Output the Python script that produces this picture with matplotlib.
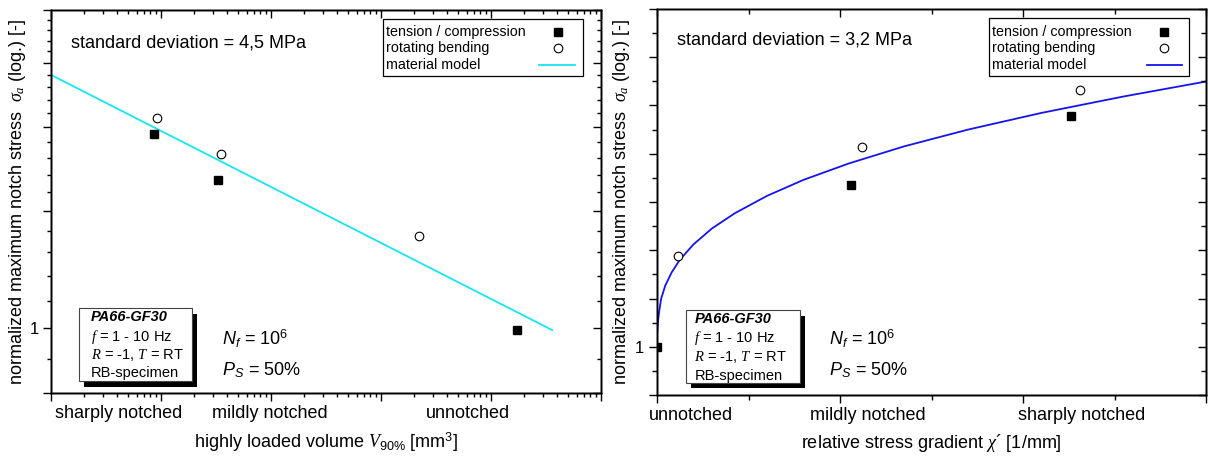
import matplotlib
matplotlib.use("Agg")
import matplotlib.pyplot as plt
import numpy as np
from matplotlib.patches import Rectangle
from matplotlib.ticker import FixedLocator, FixedFormatter, NullFormatter
from matplotlib.transforms import blended_transform_factory


plt.rcParams.update(
    {
        "font.family": ["Liberation Sans", "DejaVu Sans"],
        "font.size": 13,
        "mathtext.fontset": "custom",
        "mathtext.rm": "Liberation Sans",
        "mathtext.it": "Liberation Serif:italic",
        "mathtext.sf": "Liberation Sans:italic",
        "mathtext.bf": "Liberation Sans:bold",
        "axes.linewidth": 1.0,
    }
)

W, H = 1208, 457
CYAN = "#18E4F4"
BLUE = "#1414EE"

# left panel: highly loaded volume V90% [mm^3]
v90_tc = [0.87, 3.33, 1740.0]
sig_v90_tc = [1.956, 1.669, 0.994]
v90_rb = [0.925, 3.50, 221.0]
sig_v90_rb = [2.065, 1.827, 1.377]
v90_model = [0.1, 3600.0]
sig_v90_model = [2.398, 0.994]
v90_categories = ["sharply notched", "mildly notched", "unnotched"]
v90_category_pos = [0.41, 9.7, 618.0]

# right panel: relative stress gradient chi' [1/mm]
chi_tc = [0.0, 2.12, 4.53]
sig_chi_tc = [1.0, 1.470, 1.734]
chi_rb = [0.227, 2.24, 4.62]
sig_chi_rb = [1.243, 1.609, 1.844]
chi_model = [0.0, 0.001, 0.003, 0.011, 0.022, 0.045, 0.09, 0.16, 0.25, 0.4, 0.6, 0.85,
             1.2, 1.6, 2.1, 2.7, 3.4, 4.2, 5.1, 6.0]
sig_chi_model = [1.0, 1.022, 1.036, 1.062, 1.085, 1.121, 1.157, 1.194, 1.231, 1.277, 1.326,
                 1.375, 1.433, 1.489, 1.549, 1.613, 1.679, 1.747, 1.817, 1.883]
chi_categories = ["unnotched", "mildly notched", "sharply notched"]
chi_category_pos = [0.37, 2.30, 4.64]

legend_labels = ["tension / compression", "rotating bending", "material model"]
info_lines = ["PA66-GF30", r"$f$ = 1 - 10 Hz", r"$R$ = -1, $T$ = RT", "RB-specimen"]


def px_rect(x0, y0, x1, y1):
    return [x0 / W, 1 - y1 / H, (x1 - x0) / W, (y1 - y0) / H]


def ticks(ax, xscale, xlim, xmaj, xmin, yscale, ylim, ymaj, ymin, ylabels, maj_len, min_len):
    ax.set_xscale(xscale)
    ax.set_yscale(yscale)
    ax.set_xlim(*xlim)
    ax.set_ylim(*ylim)
    ax.xaxis.set_major_locator(FixedLocator(xmaj))
    ax.xaxis.set_minor_locator(FixedLocator(xmin))
    ax.xaxis.set_major_formatter(NullFormatter())
    ax.xaxis.set_minor_formatter(NullFormatter())
    ax.yaxis.set_major_locator(FixedLocator(ymaj))
    ax.yaxis.set_minor_locator(FixedLocator(ymin))
    ax.yaxis.set_major_formatter(FixedFormatter(ylabels))
    ax.yaxis.set_minor_formatter(NullFormatter())
    ax.tick_params(which="both", direction="out", width=1.0, labelsize=12, pad=3)
    ax.tick_params(which="major", length=maj_len)
    ax.tick_params(which="minor", length=min_len)

    # mirrored axes on top and right with inward ticks
    top = ax.twiny()
    top.set_xscale(xscale)
    top.set_xlim(*xlim)
    top.xaxis.set_major_locator(FixedLocator(xmaj))
    top.xaxis.set_minor_locator(FixedLocator(xmin))
    top.xaxis.set_major_formatter(NullFormatter())
    top.xaxis.set_minor_formatter(NullFormatter())
    top.tick_params(which="both", direction="in", width=1.0)
    top.tick_params(which="major", length=maj_len)
    top.tick_params(which="minor", length=min_len)

    right = ax.twinx()
    right.set_yscale(yscale)
    right.set_ylim(*ylim)
    right.yaxis.set_major_locator(FixedLocator(ymaj))
    right.yaxis.set_minor_locator(FixedLocator(ymin))
    right.yaxis.set_major_formatter(NullFormatter())
    right.yaxis.set_minor_formatter(NullFormatter())
    right.tick_params(which="both", direction="in", width=1.0)
    right.tick_params(which="major", length=maj_len)
    right.tick_params(which="minor", length=min_len)


def legend_box(ax, rect, rows_y, text_x, mark_x, line_x, line_color):
    x0, y0, x1, y1 = rect
    ax.add_patch(Rectangle((x0, y0), x1 - x0, y1 - y0, transform=ax.transAxes,
                           fc="white", ec="black", lw=0.9, zorder=5, clip_on=False))
    for y, label in zip(rows_y, legend_labels):
        ax.text(text_x, y, label, transform=ax.transAxes, ha="left", va="center",
                fontsize=10.3, zorder=6)
    ax.plot([mark_x], [rows_y[0]], "s", ms=5.3, color="black", transform=ax.transAxes,
            zorder=6, clip_on=False)
    ax.plot([mark_x], [rows_y[1]], "o", ms=6.2, mfc="white", mec="black", mew=0.8,
            transform=ax.transAxes, zorder=6, clip_on=False)
    ax.plot(line_x, [rows_y[2], rows_y[2]], color=line_color, lw=1.3,
            transform=ax.transAxes, zorder=6, clip_on=False)


def info_box(ax, rect, shift, text_x, rows_y):
    x0, y0, x1, y1 = rect
    dx, dy = shift
    ax.add_patch(Rectangle((x0 + dx, y0 + dy), x1 - x0, y1 - y0, transform=ax.transAxes,
                           fc="black", ec="none", zorder=4, clip_on=False))
    ax.add_patch(Rectangle((x0, y0), x1 - x0, y1 - y0, transform=ax.transAxes,
                           fc="white", ec="#444444", lw=0.8, zorder=5, clip_on=False))
    for i, (y, line) in enumerate(zip(rows_y, info_lines)):
        kw = dict(fontweight="bold", style="italic") if i == 0 else {}
        ax.text(text_x, y, line, transform=ax.transAxes, ha="left", va="center",
                fontsize=10.5, zorder=6, **kw)


def notes(ax, x, y_n, y_p):
    ax.text(x, y_n, r"$\mathsf{N}_{\mathsf{f}}$ = 10$^{6}$", transform=ax.transAxes,
            ha="left", va="baseline", fontsize=13)
    ax.text(x, y_p, r"$\mathsf{P}_{\mathsf{S}}$ = 50%", transform=ax.transAxes,
            ha="left", va="baseline", fontsize=13)


def main() -> None:
    fig = plt.figure(figsize=(W / 100, H / 100), dpi=100)

    # ---------------- left panel ----------------
    ax = fig.add_axes(px_rect(51, 10, 601, 393))
    ax.plot(v90_model, sig_v90_model, color=CYAN, lw=1.3, zorder=2)
    ax.plot(v90_tc, sig_v90_tc, "s", ms=5.3, color="black", zorder=3)
    ax.plot(v90_rb, sig_v90_rb, "o", ms=6.2, mfc="white", mec="black", mew=0.8, zorder=3)

    xmaj = [0.1, 1, 10, 100, 1000, 10000]
    xmin = [d * s for d in xmaj[:-1] for s in range(2, 10)]
    ymaj = [0.8, 1.0, 1.5, 2.0, 2.5, 3.0]
    ymin = [v for v in np.round(np.arange(0.9, 3.0, 0.1), 1) if v not in ymaj]
    ticks(ax, "log", (0.1, 1e4), xmaj, xmin, "log", (0.8, 3.0), ymaj, ymin,
          ["", "1", "", "", "", ""], 5.5, 3.2)

    trans = blended_transform_factory(ax.transData, ax.transAxes)
    for label, pos in zip(v90_categories, v90_category_pos):
        ax.text(pos, -25 / 383, label, transform=trans, ha="center", va="baseline", fontsize=13)
    ax.text(0.5, -55 / 383, r"highly loaded volume $V_{90\%}$ [mm$^{3}$]",
            transform=ax.transAxes, ha="center", va="baseline", fontsize=13)
    ax.text(-33 / 550, 0.5, r"normalized maximum notch stress  $\sigma_{a}$ (log.) [-]",
            transform=ax.transAxes, rotation=90, ha="center", va="center", fontsize=13)

    ax.text(0.036, 0.903, "standard deviation = 4,5 MPa", transform=ax.transAxes,
            ha="left", va="baseline", fontsize=13)
    legend_box(ax, (0.6045, 0.8277, 0.9664, 0.9765), [0.9433, 0.8997, 0.856],
               0.61, 0.921, [0.888, 0.952], CYAN)
    info_box(ax, (0.0515, 0.0313, 0.2558, 0.2211), (0.0091, -0.0157), 0.0727,
             [0.1984, 0.147, 0.0992, 0.0522])
    notes(ax, 0.311, 0.1253, 0.047)

    # ---------------- right panel ----------------
    ax = fig.add_axes(px_rect(657, 9, 1206, 395))
    ax.plot(chi_model, sig_chi_model, color=BLUE, lw=1.3, zorder=2)
    ax.plot(chi_tc, sig_chi_tc, "s", ms=5.3, color="black", zorder=3)
    ax.plot(chi_rb, sig_chi_rb, "o", ms=6.2, mfc="white", mec="black", mew=0.8, zorder=3)

    ymaj = list(10 ** np.arange(-0.05, 0.351, 0.05))
    ymin = list(10 ** np.arange(-0.025, 0.35, 0.05))
    ylabels = ["1" if abs(v - 1) < 1e-9 else "" for v in ymaj]
    ticks(ax, "linear", (0, 6), [0, 2, 4, 6], [1, 3, 5], "log",
          (10 ** -0.05, 10 ** 0.35), ymaj, ymin, ylabels, 6.0, 3.8)

    trans = blended_transform_factory(ax.transData, ax.transAxes)
    for label, pos in zip(chi_categories, chi_category_pos):
        ax.text(pos, -25 / 386, label, transform=trans, ha="center", va="baseline", fontsize=13)
    ax.text(0.5, -53 / 386, r"relative stress gradient $\chi$´ [1/mm]",
            transform=ax.transAxes, ha="center", va="baseline", fontsize=13)
    ax.text(-35 / 549, 0.5, r"normalized maximum notch stress  $\sigma_{a}$ (log.) [-]",
            transform=ax.transAxes, rotation=90, ha="center", va="center", fontsize=13)

    ax.text(0.036, 0.909, "standard deviation = 3,2 MPa", transform=ax.transAxes,
            ha="left", va="baseline", fontsize=13)
    legend_box(ax, (0.6046, 0.8264, 0.9683, 0.9759), [0.9412, 0.8982, 0.8549],
               0.6095, 0.9235, [0.892, 0.9556], BLUE)
    info_box(ax, (0.0528, 0.0319, 0.26, 0.2202), (0.0091, -0.0145), 0.068,
             [0.196, 0.147, 0.0992, 0.05])
    notes(ax, 0.313, 0.1295, 0.0518)

    fig.savefig("out.png", dpi=100)
    plt.close(fig)


if __name__ == "__main__":
    main()
